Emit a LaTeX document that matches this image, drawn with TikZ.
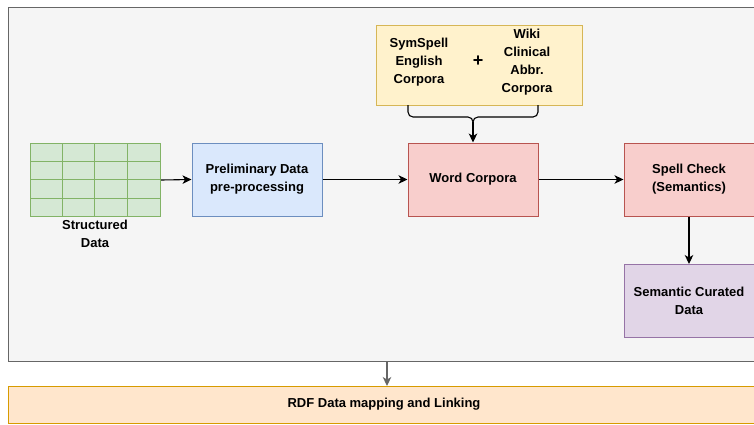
\documentclass[tikz,border=0pt]{standalone}
\usepackage{fontspec}
\setmainfont{Liberation Sans}
\usetikzlibrary{arrows.meta}
\definecolor{grayfill}{HTML}{F5F5F5}
\definecolor{graystroke}{HTML}{666666}
\definecolor{greenfill}{HTML}{D5E8D4}
\definecolor{greenstroke}{HTML}{82B366}
\definecolor{bluefill}{HTML}{DAE8FC}
\definecolor{bluestroke}{HTML}{6C8EBF}
\definecolor{redfill}{HTML}{F8CECC}
\definecolor{redstroke}{HTML}{B85450}
\definecolor{purplefill}{HTML}{E1D5E7}
\definecolor{purplestroke}{HTML}{9673A6}
\definecolor{yellowfill}{HTML}{FFF2CC}
\definecolor{yellowstroke}{HTML}{D6B656}
\definecolor{orangefill}{HTML}{FFE6CC}
\definecolor{orangestroke}{HTML}{D79B00}
\tikzset{
  box/.style={draw, line width=1pt, minimum width=130pt, minimum height=73pt, align=center, inner sep=0pt,
    font=\bfseries\fontsize{13}{18}\selectfont},
  txt/.style={align=center, inner sep=0pt, font=\bfseries\fontsize{13}{18}\selectfont},
  arr/.style={-{Stealth[length=9pt,width=8.5pt,inset=2.5pt]}, line width=1.1pt, black},
}
\begin{document}
\begin{tikzpicture}[x=1pt,y=-1pt]
\useasboundingbox (0,0) rectangle (754,424);
% outer container
\node[draw=graystroke, fill=grayfill, line width=1pt, minimum width=760pt, minimum height=354pt, anchor=north west, inner sep=0pt] (cont) at (8,7) {};
% table
\node[fill=greenfill, draw=greenstroke, line width=1pt, minimum width=130pt, minimum height=73pt, anchor=north west, inner sep=0pt] (tbl) at (30,143) {};
\foreach \xx in {62,94,127} \draw[greenstroke, line width=1pt] (\xx,143) -- (\xx,216);
\foreach \yy in {161,179.5,198} \draw[greenstroke, line width=1pt] (30,\yy) -- (160,\yy);
\node[txt] (tbllab) at (95,234) {Structured\\Data};
% boxes
\node[box, fill=bluefill, draw=bluestroke] (pre) at (257,179.5) {Preliminary Data\\pre-processing};
\node[box, fill=redfill, draw=redstroke] (wc) at (473,179.5) {Word Corpora};
\node[box, fill=redfill, draw=redstroke] (sc) at (689,179.5) {Spell Check\\(Semantics)};
\node[box, fill=purplefill, draw=purplestroke] (scd) at (689,301) {Semantic Curated\\Data};
% yellow box
\node[draw=yellowstroke, fill=yellowfill, line width=1pt, minimum width=206pt, minimum height=80pt, anchor=north west, inner sep=0pt] (corp) at (376,25) {};
\node[txt] (sym) at (419,62) {SymSpell\\English\\Corpora};
\node[txt, font=\bfseries\fontsize{18}{18}\selectfont] (plus) at (478,61) {+};
\node[txt] (wiki) at (527,62) {Wiki\\Clinical\\Abbr.\\Corpora};
% bottom bar
\node[draw=orangestroke, fill=orangefill, line width=1pt, minimum width=760pt, minimum height=37pt, anchor=north west, inner sep=0pt] (rdf) at (8,386) {};
\node[txt] (rdftxt) at (384,404.5) {RDF Data mapping and Linking};
% brace
\coordinate (btip) at (473,122);
\draw[line width=1.1pt, line join=round] (408,105) -- (408,112) arc[start angle=180, end angle=90, radius=5] -- (468,117) arc[start angle=270, end angle=360, radius=5]
  arc[start angle=180, end angle=270, radius=5] -- (533,117) arc[start angle=90, end angle=0, radius=5] -- (538,105);
% arrows
\draw[arr] (tbl.east) -- (pre.west);
\draw[arr] (pre.east) -- (wc.west);
\draw[arr] (wc.east) -- (sc.west);
\draw[arr] (sc.south) -- (scd.north);
\draw[arr] (btip) -- (wc.north);
\draw[arr, graystroke] (387,361) -- (rdf.north -| 387,0);
\end{tikzpicture}
\end{document}
